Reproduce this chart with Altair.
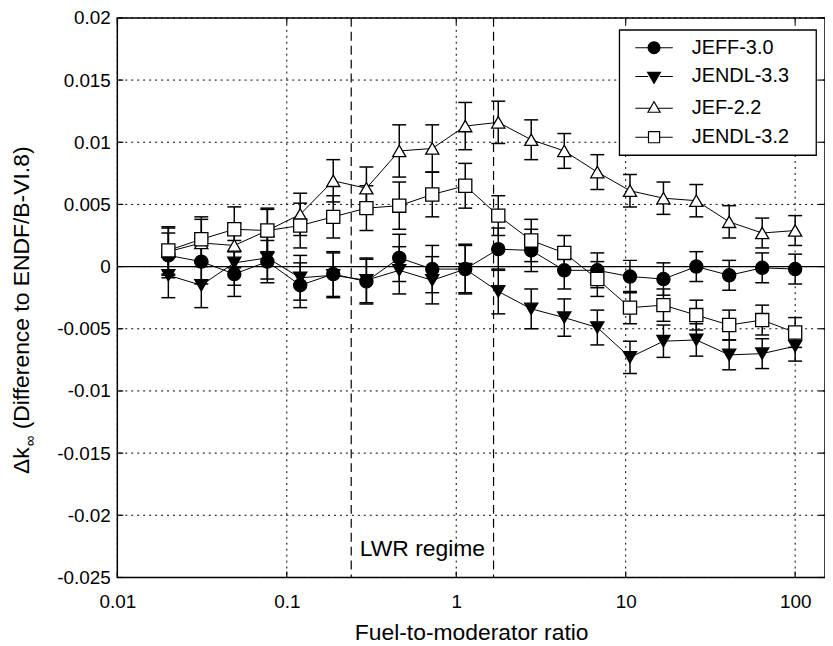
import altair as alt
import pandas as pd

# ---------------- data ----------------
series_names = ["JEFF-3.0", "JENDL-3.3", "JEF-2.2", "JENDL-3.2"]

ratio = [0.02, 0.0313, 0.049, 0.0768, 0.120, 0.188, 0.295, 0.461, 0.722, 1.13,
         1.77, 2.77, 4.34, 6.80, 10.6, 16.7, 26.1, 40.8, 63.9, 100]

jeff30 = [0.0009, 0.0004, -0.0006, 0.0004, -0.0015, -0.0006, -0.0012, 0.0007, -0.0002, -0.0002,
          0.0014, 0.0013, -0.0003, -0.0003, -0.0008, -0.0010, 0.0000, -0.0007, -0.0001, -0.0002]
jendl33 = [-0.0007, -0.0015, 0.0003, 0.0007, -0.0009, -0.0007, -0.0011, -0.0003, -0.0011, -0.0002,
           -0.0020, -0.0034, -0.0041, -0.0049, -0.0073, -0.0060, -0.0059, -0.0071, -0.0070, -0.0064]
jef22 = [0.0012, 0.0019, 0.0017, 0.0029, 0.0042, 0.0069, 0.0063, 0.0093, 0.0095, 0.0113,
         0.0116, 0.0102, 0.0093, 0.0076, 0.0061, 0.0055, 0.0053, 0.0036, 0.0027, 0.0029]
jendl32 = [0.0013, 0.0022, 0.0030, 0.0029, 0.0033, 0.0040, 0.0047, 0.0049, 0.0058, 0.0065,
           0.0041, 0.0021, 0.0011, -0.0010, -0.0033, -0.0031, -0.0039, -0.0047, -0.0043, -0.0053]

jeff30_err = [0.0018, 0.0018, 0.0018, 0.0017, 0.0018, 0.0018, 0.0018, 0.0019, 0.0019, 0.0020,
              0.0017, 0.0017, 0.0015, 0.0014, 0.0013, 0.0013, 0.0012, 0.0012, 0.0012, 0.0012]
jendl33_err = [0.0018, 0.0018, 0.0018, 0.0017, 0.0018, 0.0018, 0.0018, 0.0019, 0.0019, 0.0019,
               0.0018, 0.0016, 0.0015, 0.0014, 0.0013, 0.0013, 0.0013, 0.0012, 0.0012, 0.0012]
jef22_err = [0.0019, 0.0019, 0.0018, 0.0018, 0.0017, 0.0017, 0.0017, 0.0021, 0.0019, 0.0019,
             0.0017, 0.0016, 0.0014, 0.0014, 0.0013, 0.0013, 0.0013, 0.0013, 0.0012, 0.0012]
jendl32_err = [0.0019, 0.0018, 0.0018, 0.0017, 0.0018, 0.0017, 0.0018, 0.0019, 0.0018, 0.0018,
               0.0016, 0.0017, 0.0014, 0.0014, 0.0013, 0.0013, 0.0012, 0.0012, 0.0012, 0.0012]

x_ticks = [0.01, 0.1, 1, 10, 100]
y_ticks = [-0.025, -0.02, -0.015, -0.01, -0.005, 0, 0.005, 0.01, 0.015, 0.02]
x_domain = [0.01, 150]
y_domain = [-0.025, 0.02]
lwr_bounds = [0.24, 1.66]
lwr_text = ["LWR regime"]
lwr_text_y = [-0.0227]
x_title = "Fuel-to-moderator ratio"
y_title_parts = ["\u0394k", "\u221e", "(Difference to ENDF/B-VI.8)"]

# ---------------- styling ----------------
W, H = 712, 563
FONT = "Liberation Sans"
marker_shapes = ["circle", "triangle-down", "triangle-up", "square"]
marker_fills = ["black", "black", "white", "white"]
# legend samples: line segments + marker, drawn purely with fill (hollow markers as rings)
LEFT = "M-2.9,-0.08H-0.9V0.08H-2.9Z"
RIGHT = "M0.9,-0.08H2.9V0.08H0.9Z"
legend_paths = [
    LEFT + RIGHT + "M-1,0A1,1,0,1,1,1,0A1,1,0,1,1,-1,0Z",
    LEFT + RIGHT + "M-1.15,-0.75L1.15,-0.75L0,1.25Z",
    "M-2.9,-0.08H-0.66V0.08H-2.9ZM0.66,-0.08H2.9V0.08H0.66Z"
    "M0,-1.2L1.1,0.7L-1.1,0.7ZM0,-0.86L-0.79,0.53L0.79,0.53Z",
    LEFT + RIGHT + "M-0.95,-0.95H0.95V0.95H-0.95ZM-0.77,-0.77V0.77H0.77V-0.77Z",
]

rows = []
for si, (name, vals, errs) in enumerate(zip(series_names,
                                            [jeff30, jendl33, jef22, jendl32],
                                            [jeff30_err, jendl33_err, jef22_err, jendl32_err])):
    for xv, v, e in zip(ratio, vals, errs):
        rows.append({"series": name, "sidx": si, "x": xv, "v": v, "lo": v - e, "hi": v + e})
df = pd.DataFrame(rows)

xscale = alt.Scale(type="log", domain=x_domain, nice=False)
yscale = alt.Scale(domain=y_domain, nice=False, zero=False)

x_axis = alt.Axis(values=x_ticks, title=x_title, grid=False, ticks=False, domain=False,
                  labelExpr="toString(datum.value)")
y_axis = alt.Axis(values=y_ticks, title="", grid=False, ticks=False, domain=False,
                  labelExpr="toString(datum.value)")


def XE(field):
    return alt.X(field, type="quantitative", scale=xscale, axis=x_axis)


def YE(field):
    return alt.Y(field, type="quantitative", scale=yscale, axis=y_axis)


xt = pd.DataFrame({"t": x_ticks})
yt = pd.DataFrame({"t": y_ticks})

# dotted grid
grid_x = alt.Chart(xt).mark_rule(color="black", strokeWidth=1, strokeDash=[2, 4]).encode(x=XE("t"))
grid_y = alt.Chart(yt).mark_rule(color="black", strokeWidth=1, strokeDash=[2, 4]).encode(y=YE("t"))

errbars = alt.Chart(df).mark_rule(color="black", strokeWidth=1.5).encode(
    x=XE("x"), y=YE("lo"), y2="hi:Q")
caps_lo = alt.Chart(df).mark_tick(orient="horizontal", size=14, thickness=1.5,
                                  color="black", opacity=1).encode(x=XE("x"), y=YE("lo"))
caps_hi = alt.Chart(df).mark_tick(orient="horizontal", size=14, thickness=1.5,
                                  color="black", opacity=1).encode(x=XE("x"), y=YE("hi"))

lines = alt.Chart(df).mark_line(color="black", strokeWidth=1).encode(
    x=XE("x"), y=YE("v"), detail="series:N")

points = alt.Chart(df).mark_point(filled=True, opacity=1, stroke="black", strokeWidth=1.3,
                                  size=175).encode(
    x=XE("x"), y=YE("v"),
    shape=alt.Shape("series:N", scale=alt.Scale(domain=series_names, range=marker_shapes), legend=None),
    fill=alt.Fill("series:N", scale=alt.Scale(domain=series_names, range=marker_fills), legend=None),
    order=alt.Order("sidx:Q"),
)

legend_layer = alt.Chart(df).transform_filter("datum.v > 1").mark_point(
    filled=True, opacity=1, color="black", strokeWidth=0, size=169).encode(
    x=XE("x"), y=YE("v"),
    shape=alt.Shape("series:N", scale=alt.Scale(domain=series_names, range=legend_paths),
                    legend=alt.Legend(orient="none", legendX=505, legendY=12,
                                      title="\u00a0", titleOrient="right", titleFontSize=1,
                                      titlePadding=19,
                                      labelFont=FONT, labelFontSize=20, labelColor="black",
                                      strokeColor="black", fillColor="white", padding=8,
                                      rowPadding=9, symbolSize=169, symbolOffset=17,
                                      labelOffset=28)),
)

zero_line = alt.Chart(pd.DataFrame({"z": [0]})).mark_rule(color="black", strokeWidth=1.3).encode(
    y=YE("z"))

lwr_lines = alt.Chart(pd.DataFrame({"b": lwr_bounds})).mark_rule(
    color="black", strokeWidth=1.2, strokeDash=[9, 5]).encode(x=XE("b"))

lwr_df = pd.DataFrame({"x": [(lwr_bounds[0] * lwr_bounds[1]) ** 0.5], "y": lwr_text_y, "t": lwr_text})
lwr_label = alt.Chart(lwr_df).mark_text(font=FONT, fontSize=23, color="black",
                                        align="center", baseline="middle").encode(
    x=XE("x"), y=YE("y"), text="t:N")

# inward ticks on all four sides
tick_style = dict(color="black", strokeWidth=1.2)
xt_bottom = alt.Chart(xt).mark_rule(**tick_style).encode(x=XE("t"), y=alt.value(H), y2=alt.value(H - 6))
xt_top = alt.Chart(xt).mark_rule(**tick_style).encode(x=XE("t"), y=alt.value(0), y2=alt.value(6))
yt_left = alt.Chart(yt).mark_rule(**tick_style).encode(y=YE("t"), x=alt.value(0), x2=alt.value(6))
yt_right = alt.Chart(yt).mark_rule(**tick_style).encode(y=YE("t"), x=alt.value(W), x2=alt.value(W - 6))

# y-axis title with subscript infinity
yt1 = alt.Chart(pd.DataFrame({"t": [y_title_parts[0]]})).mark_text(
    font=FONT, fontSize=23, color="black", angle=270, align="left", baseline="middle").encode(
    text="t:N", x=alt.value(-96), y=alt.value(459))
yt2 = alt.Chart(pd.DataFrame({"t": [y_title_parts[1]]})).mark_text(
    font=FONT, fontSize=15, color="black", angle=270, align="left", baseline="middle").encode(
    text="t:N", x=alt.value(-88), y=alt.value(431))
yt3 = alt.Chart(pd.DataFrame({"t": [y_title_parts[2]]})).mark_text(
    font=FONT, fontSize=23, color="black", angle=270, align="left", baseline="middle").encode(
    text="t:N", x=alt.value(-96), y=alt.value(414))

chart = alt.layer(
    grid_x, grid_y, lwr_lines, zero_line, errbars, caps_lo, caps_hi, lines, points,
    xt_bottom, xt_top, yt_left, yt_right, lwr_label, yt1, yt2, yt3, legend_layer
).resolve_scale(shape="independent").properties(
    width=W, height=H,
    autosize=alt.AutoSizeParams(type="none"),
    padding={"left": 110, "top": 8, "right": 0, "bottom": 67},
    background="white",
).configure_view(stroke="black", strokeWidth=1.5).configure_axis(
    labelFont=FONT, labelFontSize=19, labelColor="black", labelPadding=7,
    labelFlush=False, labelOverlap=False,
    titleFont=FONT, titleFontSize=23, titleFontWeight="normal", titleColor="black",
).configure_axisX(labelPadding=15, titlePadding=10).configure_legend(strokeWidth=1.3)

chart.save("out.html", embed_options={"renderer": "svg", "actions": False})
